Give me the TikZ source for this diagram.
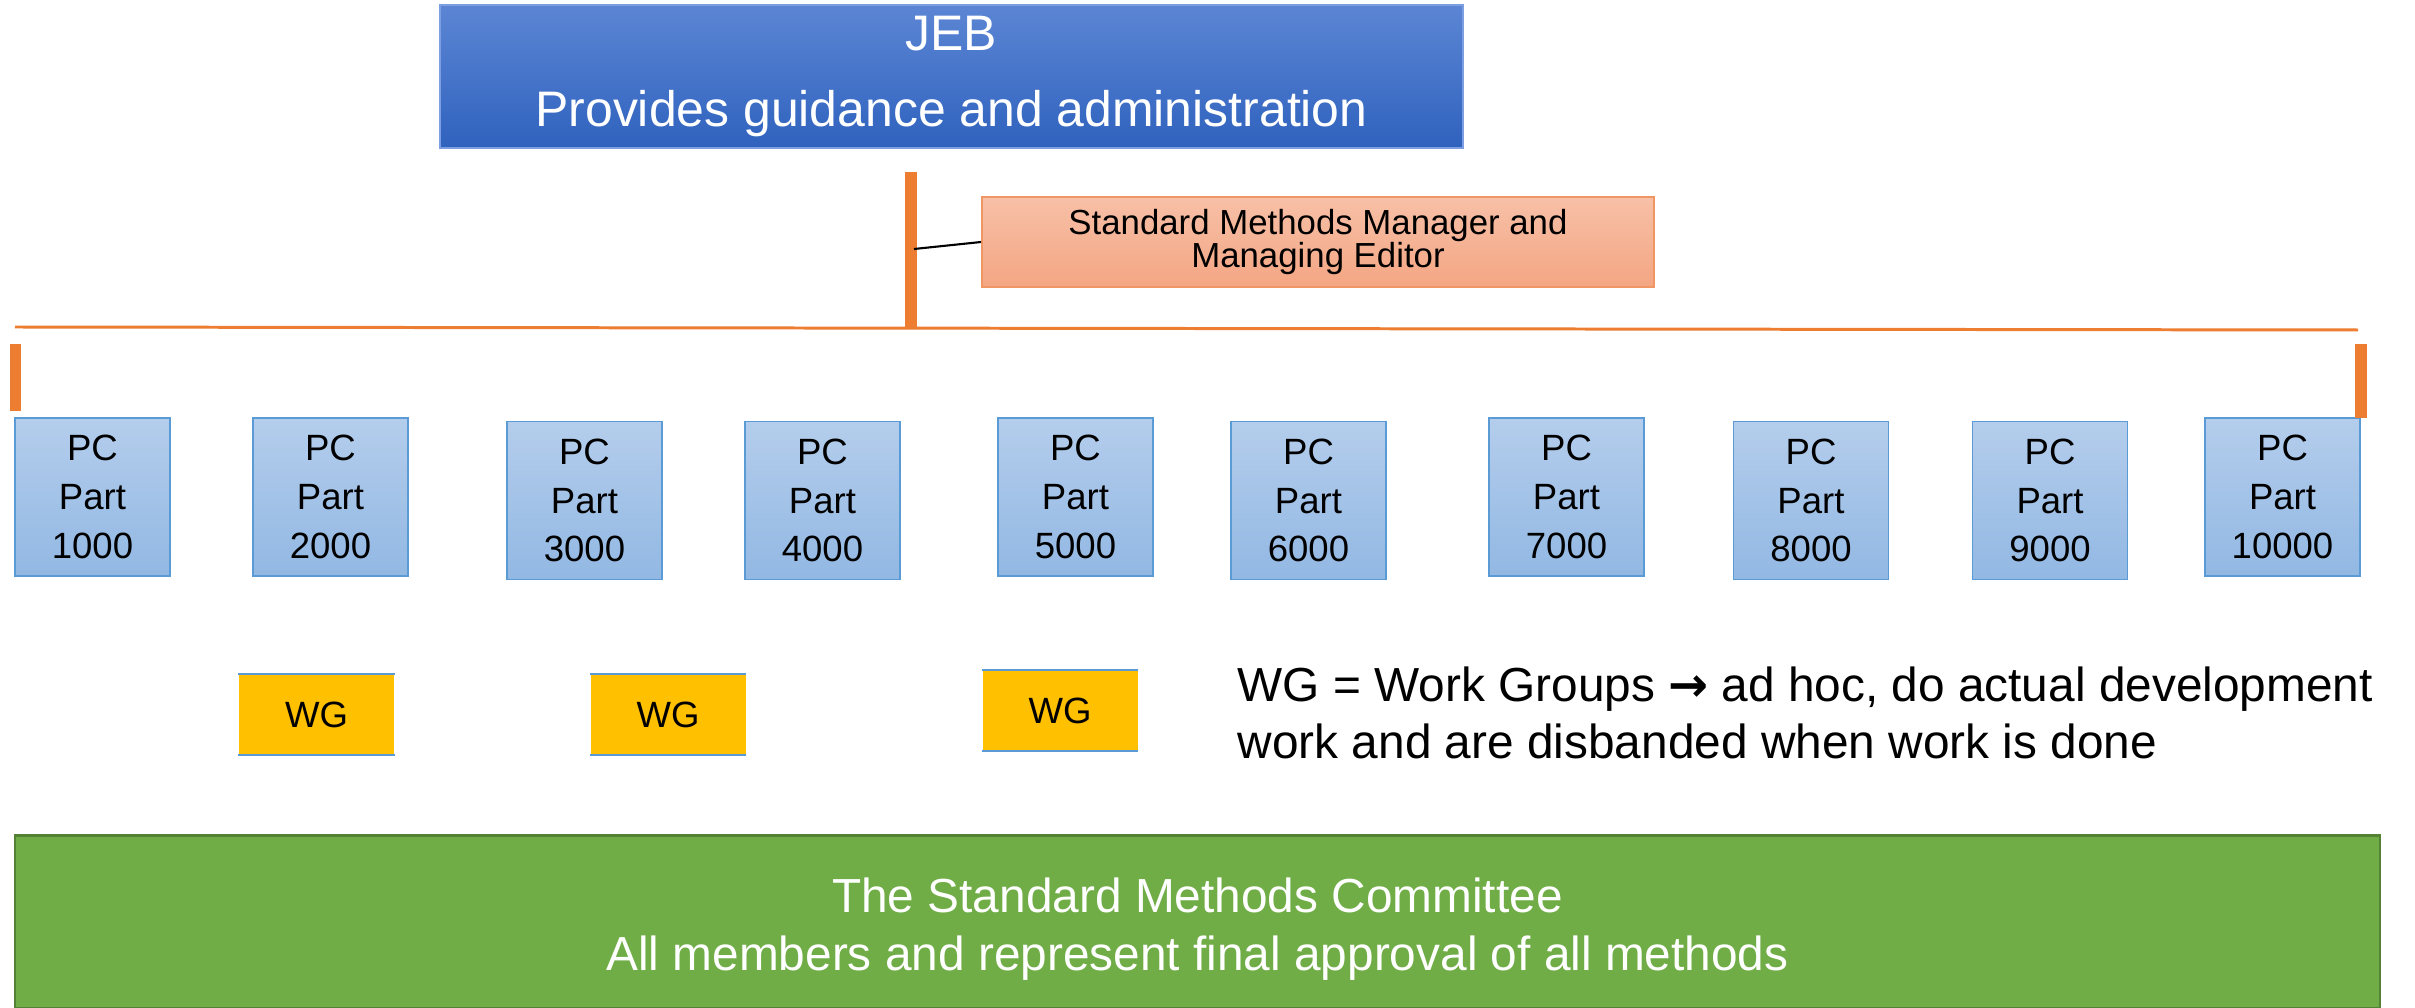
\documentclass[tikz,border=0pt]{standalone}
\usepackage{fontspec}
\setmainfont{Liberation Sans}
\newfontfamily\arrowfont{DejaVu Sans}
\usepackage{xcolor}
\usepackage{tikz}

\definecolor{jebtop}{RGB}{92,134,212}
\definecolor{jebbottom}{RGB}{47,98,190}
\definecolor{jebline}{RGB}{125,158,224}
\definecolor{mgrtop}{RGB}{247,192,167}
\definecolor{mgrbottom}{RGB}{244,166,131}
\definecolor{mgrline}{RGB}{240,150,100}
\definecolor{pctop}{RGB}{180,205,236}
\definecolor{pcbottom}{RGB}{146,184,227}
\definecolor{pcline}{RGB}{91,155,213}
\definecolor{wgfill}{RGB}{255,192,0}
\definecolor{smcfill}{RGB}{112,173,71}
\definecolor{smcline}{RGB}{84,130,53}
\definecolor{barorange}{RGB}{237,125,49}

\begin{document}
\begin{tikzpicture}[
        jebbox/.style={draw=jebline, line width=0.6pt, top color=jebtop, bottom color=jebbottom, text=white, align=center, inner sep=0pt, minimum width=10.23cm, minimum height=1.43cm, font=\fontsize{14.2}{21.6}\selectfont},
        mgrbox/.style={draw=mgrline, line width=0.5pt, top color=mgrtop, bottom color=mgrbottom, align=center, inner sep=0pt, minimum width=6.72cm, minimum height=0.9cm, font=\fontsize{9.9}{9.4}\selectfont},
        pcbox/.style={draw=pcline, line width=0.5pt, top color=pctop, bottom color=pcbottom, align=center, inner sep=0pt, minimum width=1.55cm, minimum height=1.58cm, font=\fontsize{10.4}{13.9}\selectfont},
        wgbox/.style={fill=wgfill, inner sep=0pt, minimum width=1.55cm, minimum height=0.79cm, font=\fontsize{10.4}{12}\selectfont},
        wgedge/.style={draw=pcline, line width=0.5pt},
        orangebar/.style={draw=barorange, line width=3.3pt},
        orangeline/.style={draw=barorange, line width=0.85pt}
    ]
                \useasboundingbox (0, 0) rectangle (24.15, -10.08);

                \node[jebbox] (jeb) at (9.515, -0.765) {JEB\\Provides guidance and administration};
                \node[mgrbox] (mgr) at (13.18, -2.42) {Standard Methods Manager and\\Managing Editor};

                \coordinate (bartop) at (9.11, -1.72);
                \coordinate (barfoot) at (9.11, -3.28);
                \coordinate (barjoin) at (9.14, -2.49);
                \coordinate (hleft) at (0.15, -3.27);
                \coordinate (hright) at (23.58, -3.30);
                \coordinate (ltop) at (0.155, -3.44);
                \coordinate (lfoot) at (0.155, -4.11);
                \coordinate (rtop) at (23.61, -3.44);
                \coordinate (rfoot) at (23.61, -4.18);

                \node[pcbox] (pc1) at (0.925, -4.97) {PC\\Part\\1000};
                \node[pcbox] (pc2) at (3.305, -4.97) {PC\\Part\\2000};
                \node[pcbox] (pc3) at (5.845, -5.005) {PC\\Part\\3000};
                \node[pcbox] (pc4) at (8.225, -5.005) {PC\\Part\\4000};
                \node[pcbox] (pc5) at (10.755, -4.97) {PC\\Part\\5000};
                \node[pcbox] (pc6) at (13.085, -5.005) {PC\\Part\\6000};
                \node[pcbox] (pc7) at (15.665, -4.97) {PC\\Part\\7000};
                \node[pcbox] (pc8) at (18.11, -5.005) {PC\\Part\\8000};
                \node[pcbox] (pc9) at (20.50, -5.005) {PC\\Part\\9000};
                \node[pcbox] (pc10) at (22.825, -4.97) {PC\\Part\\10000};

                \node[wgbox] (wg1) at (3.165, -7.145) {WG};
                \node[wgbox] (wg2) at (6.68, -7.145) {WG};
                \node[wgbox] (wg3) at (10.60, -7.105) {WG};
                \draw[wgedge] (wg1.north west) -- (wg1.north east);
                \draw[wgedge] (wg1.south west) -- (wg1.south east);
                \draw[wgedge] (wg2.north west) -- (wg2.north east);
                \draw[wgedge] (wg2.south west) -- (wg2.south east);
                \draw[wgedge] (wg3.north west) -- (wg3.north east);
                \draw[wgedge] (wg3.south west) -- (wg3.south east);

                \node[anchor=north west, inner sep=0pt, align=left, font=\fontsize{13.6}{16.2}\selectfont] (legend) at (12.37, -6.66) {WG = Work Groups {\arrowfont\bfseries →} ad hoc, do actual development\\work and are disbanded when work is done};

                \node[fill=smcfill, draw=smcline, line width=0.4pt, inner sep=0pt, minimum width=23.65cm, minimum height=1.72cm] (smc) at (11.975, -9.22) {};
                \draw[smcline, line width=0.9pt] (smc.north west) -- (smc.north east);
                \node[text=white, align=center, inner sep=0pt, font=\fontsize{13.6}{16.5}\selectfont] (smctext) at (11.975, -9.295) {The Standard Methods Committee\\All members and represent final approval of all methods};

                \draw[orangebar] (bartop) -- (barfoot);
                \draw[orangeline] (hleft) -- (hright);
                \draw[orangebar, line width=3.1pt] (ltop) -- (lfoot);
                \draw[orangebar] (rtop) -- (rfoot);
                \draw[line width=0.6pt] (barjoin) -- (mgr.west);
            \end{tikzpicture}
\end{document}
